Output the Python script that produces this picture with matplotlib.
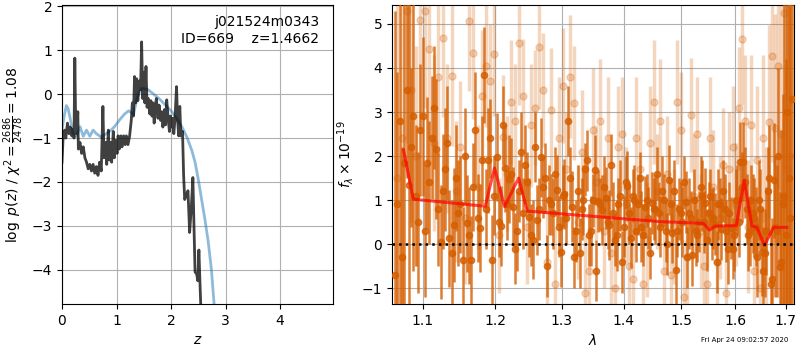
import numpy as np
import matplotlib
matplotlib.use('Agg')
import matplotlib.pyplot as plt
from matplotlib.ticker import NullLocator

# redshift PDF (left panel)
z_pdf = [0.00, 0.02, 0.05, 0.07, 0.10, 0.13, 0.15, 0.18, 0.20, 0.22,
         0.235, 0.25, 0.27, 0.29, 0.30, 0.33, 0.36, 0.39, 0.42, 0.45,
         0.48, 0.51, 0.54, 0.57, 0.60, 0.63, 0.66, 0.69, 0.72, 0.75,
         0.77, 0.80, 0.82, 0.85, 0.87, 0.89, 0.91, 0.94, 0.96, 0.98,
         1.01, 1.03, 1.05, 1.08, 1.10, 1.13, 1.16, 1.18, 1.21, 1.24,
         1.27, 1.29, 1.31, 1.33, 1.35, 1.37, 1.39, 1.42, 1.44, 1.46,
         1.48, 1.50, 1.52, 1.54, 1.56, 1.58, 1.61, 1.63, 1.65, 1.67,
         1.69, 1.71, 1.73, 1.76, 1.78, 1.81, 1.83, 1.85, 1.88, 1.90,
         1.92, 1.95, 1.97, 1.99, 2.01, 2.03, 2.05, 2.07, 2.10, 2.12,
         2.14, 2.16, 2.18, 2.21, 2.23, 2.25, 2.28, 2.31, 2.34, 2.37,
         2.40, 2.42, 2.44, 2.47, 2.49, 2.51, 2.53, 2.55]
logp = [-1.55, -1.00, -0.82, -1.00, -0.66, -0.90, -0.75, -0.95, -0.80, -1.00,
        0.82, -0.60, -0.90, -0.40, -1.25, -1.10, -1.35, -1.20, -1.45, -1.55,
        -1.70, -1.60, -1.75, -1.60, -1.80, -1.65, -1.85, -1.55, -1.75, -0.28,
        -1.45, -1.10, -1.60, -0.82, -1.50, -1.10, -1.55, -0.85, -1.45, -1.05,
        -1.35, -0.95, -1.25, -0.95, -1.20, -0.95, -1.15, -0.95, -1.15, -0.95,
        -0.60, -0.20, -0.50, 0.40, -0.20, 0.35, -0.15, 0.30, 0.10, 1.19,
        -0.10, 0.50, -0.20, 0.63, -0.30, -0.10, -0.45, -0.15, -0.50, -0.20,
        -0.66, -0.30, -0.10, -0.55, -0.25, -0.60, -0.40, -0.75, -0.35, -0.70,
        -0.13, -0.60, -0.85, -0.50, -0.75, -0.55, -0.90, -0.60, 0.17, -0.60,
        -0.95, -0.28, -0.95, -0.85, -1.85, -2.40, -2.30, -2.20, -3.15, -2.60,
        -1.90, -3.00, -4.05, -4.10, -4.25, -3.55, -4.30, -5.00]

# smooth curve
z_prior = [0.00, 0.04, 0.08, 0.11, 0.15, 0.20, 0.26, 0.33, 0.39, 0.45,
           0.51, 0.57, 0.63, 0.72, 0.81, 0.90, 0.97, 1.06, 1.15, 1.22,
           1.27, 1.31, 1.34, 1.37, 1.42, 1.46, 1.52, 1.58, 1.65, 1.73,
           1.82, 1.92, 2.00, 2.10, 2.20, 2.29, 2.38, 2.44, 2.50, 2.56,
           2.62, 2.68, 2.74, 2.79, 2.81]
logp_prior = [-0.81, -0.50, -0.26, -0.32, -0.55, -0.90, -0.96, -0.74, -0.96, -0.82,
              -0.96, -0.82, -0.90, -0.98, -0.90, -0.82, -0.73, -0.58, -0.45, -0.38,
              -0.42, -0.47, -0.30, -0.13, 0.05, 0.13, 0.12, 0.10, 0.03, -0.05,
              -0.15, -0.28, -0.38, -0.55, -0.75, -0.98, -1.28, -1.55, -1.95, -2.40,
              -2.85, -3.35, -4.00, -4.80, -5.20]

# spectrum, main points
wave_a = [1.064, 1.070, 1.076, 1.082, 1.088, 1.094, 1.100, 1.106, 1.112, 1.118,
          1.124, 1.130, 1.136, 1.142, 1.148, 1.154, 1.160, 1.166, 1.172, 1.178,
          1.184, 1.190, 1.196, 1.202, 1.208, 1.214, 1.220, 1.226, 1.232, 1.238,
          1.244, 1.250, 1.256, 1.262, 1.268, 1.274, 1.280, 1.286, 1.292, 1.298,
          1.304, 1.310, 1.316, 1.322, 1.328, 1.334, 1.340, 1.346, 1.352, 1.358,
          1.364, 1.370, 1.376, 1.382, 1.388, 1.394, 1.400, 1.406, 1.412, 1.418,
          1.424, 1.430, 1.436, 1.442, 1.448, 1.454, 1.460, 1.466, 1.472, 1.478,
          1.484, 1.490, 1.496, 1.502, 1.508, 1.514, 1.520, 1.526, 1.532, 1.538,
          1.544, 1.550, 1.556, 1.562, 1.568, 1.574, 1.580, 1.586, 1.592, 1.598,
          1.604, 1.610, 1.616, 1.622, 1.628, 1.634, 1.640, 1.646, 1.652, 1.658,
          1.664, 1.670, 1.676, 1.682, 1.688, 1.694, 1.700, 1.706, 1.712]
flux_a = [-0.70, 2.80, 1.85, 1.35, 2.90, 0.50, 2.90, 1.84, 2.42, 2.16,
          0.05, 1.70, 0.13, 0.43, 0.71, -0.36, 0.47, -0.36, 2.60, 0.37,
          3.84, 1.90, -0.35, 1.98, 0.41, 1.72, 1.47, 0.85, 0.30, 2.10,
          1.80, 0.61, 0.10, 0.55, 1.97, 1.50, 1.00, 0.70, 1.23, -0.17,
          1.14, 2.80, 0.85, 0.30, -0.20, 1.00, 1.90, 0.30, 1.68, 0.98,
          0.78, 1.05, 0.43, 0.70, 0.20, 1.10, 0.40, 1.32, 0.15, 1.00,
          0.90, 0.40, 0.85, 0.60, 0.93, 0.80, 0.70, 1.20, 0.30, 1.45,
          0.26, -0.59, 0.80, 0.50, 0.96, 0.70, -0.25, 0.30, 0.51, 1.10,
          0.93, 0.70, 0.45, 0.45, 0.90, 0.35, 0.80, -0.10, 0.36, 0.20,
          1.00, 1.87, 1.87, 0.80, 0.30, 0.70, 0.40, 1.00, -0.17, -0.20,
          1.21, -0.90, 1.45, 0.30, -0.52, 0.90, 0.20, 1.50, 3.30]
err_a = [6.0, 6.0, 6.0, 5.0, 3.5, 1.6, 1.8, 1.5, 1.4, 1.6,
         1.3, 1.4, 1.1, 1.3, 1.2, 1.2, 1.1, 1.0, 1.3, 1.0,
         1.1, 1.2, 1.0, 1.0, 0.9, 1.0, 1.0, 0.9, 0.9, 0.9,
         0.9, 0.9, 0.9, 0.8, 0.9, 0.8, 0.8, 0.8, 0.8, 0.8,
         0.8, 0.8, 0.8, 0.7, 0.8, 0.8, 0.7, 0.8, 0.8, 0.7,
         0.8, 0.7, 0.8, 0.7, 0.8, 0.8, 0.7, 0.8, 0.7, 0.8,
         0.7, 0.8, 0.7, 0.7, 0.7, 0.8, 0.7, 0.8, 0.7, 0.8,
         0.7, 0.8, 0.7, 0.8, 0.7, 0.8, 0.7, 0.8, 0.7, 0.8,
         0.8, 0.7, 0.8, 0.7, 0.8, 0.7, 0.8, 0.8, 0.7, 0.8,
         0.8, 0.9, 0.9, 0.8, 0.8, 0.9, 0.9, 0.9, 1.0, 1.0,
         1.0, 1.2, 1.3, 1.5, 1.7, 2.5, 4.0, 6.0, 6.0]

# spectrum, second beam (same grid as the faint points)
wave_b = [1.067, 1.073, 1.079, 1.085, 1.091, 1.097, 1.103, 1.109, 1.115, 1.121,
          1.127, 1.133, 1.139, 1.145, 1.151, 1.157, 1.163, 1.169, 1.175, 1.181,
          1.187, 1.193, 1.199, 1.205, 1.211, 1.217, 1.223, 1.229, 1.235, 1.241,
          1.247, 1.253, 1.259, 1.265, 1.271, 1.277, 1.283, 1.289, 1.295, 1.301,
          1.307, 1.313, 1.319, 1.325, 1.331, 1.337, 1.343, 1.349, 1.355, 1.361,
          1.367, 1.373, 1.379, 1.385, 1.391, 1.397, 1.403, 1.409, 1.415, 1.421,
          1.427, 1.433, 1.439, 1.445, 1.451, 1.457, 1.463, 1.469, 1.475, 1.481,
          1.487, 1.493, 1.499, 1.505, 1.511, 1.517, 1.523, 1.529, 1.535, 1.541,
          1.547, 1.553, 1.559, 1.565, 1.571, 1.577, 1.583, 1.589, 1.595, 1.601,
          1.607, 1.613, 1.619, 1.625, 1.631, 1.637, 1.643, 1.649, 1.655, 1.661,
          1.667, 1.673, 1.679, 1.685, 1.691, 1.697, 1.703, 1.709]
flux_c = [0.90, -0.30, 3.50, 2.20, 1.10, 2.60, 0.30, 1.40, 3.10, 0.80,
          1.20, 2.30, -0.20, 1.50, 0.90, 2.00, 0.20, 1.30, 0.60, 1.90,
          0.80, 2.40, 1.10, 0.50, 2.70, 0.90, 1.60, -0.10, 1.20, 0.70,
          1.40, 0.20, 2.20, 0.80, 1.30, -0.50, 0.90, 1.60, 0.40, 1.10,
          0.60, 1.50, -0.30, 1.20, 0.80, 1.70, 0.20, 1.00, -0.60, 0.90,
          1.30, 0.50, 1.80, 0.10, 0.90, -0.40, 1.40, 0.70, 1.10, 0.30,
          1.50, 0.20, 1.00, -0.20, 0.80, 1.60, 0.40, 1.00, 0.00, 0.90,
          1.20, 0.30, 0.70, 1.40, -0.30, 0.60, 1.00, 0.20, 1.30, 0.50,
          0.10, 1.10, 0.60, -0.40, 0.90, 1.20, 0.30, 0.70, -0.10, 1.00,
          0.50, 1.30, 1.40, 0.20, 1.00, 0.60, -0.30, 0.80, -0.60, 0.30,
          1.50, -0.80, 0.40, 2.00, -0.40, 1.10, 3.00, 0.60]
err_c = [3.0, 2.5, 2.0, 1.8, 1.6, 1.5, 1.5, 1.4, 1.4, 1.3,
         1.3, 1.3, 1.2, 1.2, 1.1, 1.1, 1.1, 1.0, 1.0, 1.0,
         0.9, 0.9, 0.9, 0.8, 0.9, 0.8, 0.8, 0.8, 0.7, 0.8,
         0.7, 0.7, 0.8, 0.7, 0.7, 0.7, 0.7, 0.6, 0.7, 0.7,
         0.6, 0.7, 0.7, 0.6, 0.7, 0.6, 0.7, 0.6, 0.7, 0.6,
         0.7, 0.6, 0.7, 0.6, 0.6, 0.7, 0.6, 0.7, 0.6, 0.7,
         0.6, 0.7, 0.6, 0.6, 0.7, 0.6, 0.7, 0.6, 0.7, 0.6,
         0.7, 0.6, 0.7, 0.6, 0.7, 0.6, 0.7, 0.6, 0.7, 0.7,
         0.7, 0.6, 0.7, 0.7, 0.6, 0.7, 0.7, 0.7, 0.7, 0.7,
         0.8, 0.8, 0.8, 0.8, 0.8, 0.9, 0.9, 0.9, 1.0, 1.0,
         1.2, 1.4, 1.6, 2.0, 3.0, 5.0, 6.0, 6.0]

# faint points
flux_b = [1.50, 2.40, 5.30, 3.50, 2.00, 5.10, 5.30, 4.42, 2.30, 3.80,
          4.68, 2.40, 3.82, 1.20, 2.20, 0.60, 5.07, 4.33, 1.30, 3.36,
          4.05, 3.70, 4.32, 0.20, 2.43, 1.60, 3.23, 2.80, 4.56, 3.36,
          0.40, 2.70, 3.10, 4.47, 3.50, -0.40, 3.05, -0.90, 2.40, 3.60,
          1.70, 3.80, 3.20, 0.50, 2.10, -1.10, -0.60, 2.60, 1.40, 2.80,
          0.30, 2.40, -0.20, -1.00, 2.20, 2.50, 0.90, -0.50, -0.80, 2.40,
          1.70, -0.90, 0.10, 2.30, 3.23, 1.20, 2.80, -0.60, 1.60, -0.70,
          0.40, 3.23, 2.60, -1.20, -0.30, 2.93, 1.10, 2.50, 0.30, -0.50,
          -0.90, 2.40, 1.30, -0.40, 0.60, 1.80, -1.10, 1.70, 2.20, 0.90,
          3.08, 4.66, 2.80, 0.40, 2.70, -0.60, 1.90, -1.00, 2.40, 0.20,
          2.77, 4.27, 2.63, 4.05, 2.50, 5.25, 1.70, 2.00]
err_b = [4.0, 4.0, 3.0, 3.0, 2.5, 2.5, 2.2, 2.0, 2.0, 1.8,
         1.8, 1.7, 1.6, 1.6, 1.5, 1.5, 1.6, 1.5, 1.4, 1.5,
         1.4, 1.3, 1.4, 1.3, 1.4, 1.3, 1.4, 1.3, 1.4, 1.3,
         1.3, 1.4, 1.3, 1.4, 1.3, 1.3, 1.4, 1.3, 1.4, 1.3,
         1.3, 1.4, 1.3, 1.3, 1.4, 1.3, 1.3, 1.4, 1.3, 1.4,
         1.3, 1.4, 1.3, 1.3, 1.4, 1.3, 1.3, 1.4, 1.3, 1.4,
         1.3, 1.4, 1.3, 1.3, 1.4, 1.3, 1.4, 1.3, 1.3, 1.4,
         1.3, 1.4, 1.3, 1.3, 1.4, 1.3, 1.4, 1.3, 1.3, 1.4,
         1.3, 1.4, 1.3, 1.3, 1.4, 1.3, 1.4, 1.3, 1.4, 1.4,
         1.4, 1.5, 1.5, 1.5, 1.6, 1.6, 1.7, 1.8, 1.9, 2.0,
         2.2, 2.4, 2.6, 2.8, 3.0, 3.5, 4.0, 5.0]

# best-fit model
wave_model = [1.0752, 1.0878, 1.1858, 1.1991, 1.2136, 1.2342, 1.2471, 1.4626,
              1.5405, 1.5517, 1.5623, 1.6022, 1.6176, 1.6325, 1.6423, 1.6574,
              1.6753, 1.7025]
flux_model = [2.14, 1.02, 0.86, 1.73, 0.85, 1.50, 0.75, 0.51,
              0.47, 0.32, 0.41, 0.42, 1.45, 0.41, 0.38, -0.03,
              0.38, 0.38]

wave_ticks = [1.1, 1.2, 1.3, 1.4, 1.5, 1.6, 1.7]

grism_color = (0.835, 0.369, 0.0)

fig = plt.figure(figsize=(8, 3.5), dpi=100)

# left: p(z)
ax = fig.add_axes([0.0775, 0.1314, 0.3388, 0.8543])
ax.plot(z_prior, logp_prior, color='tab:blue', alpha=0.5, lw=2)
ax.plot(z_pdf, logp, color='k', alpha=0.75, lw=2)
ax.set_xlim(0, 4.97)
ax.set_ylim(-4.78, 2.03)
ax.set_xlabel('$z$')
ax.set_ylabel(r'$\log\ p(z)$ / $\chi^2=\frac{2686}{2478}=1.08$')
ax.grid()
ax.text(0.95, 0.965, 'j021524m0343\nID=669    z=1.4662',
        ha='right', va='top', transform=ax.transAxes, fontsize=10)

# right: spectrum
ax2 = fig.add_axes([0.49, 0.1314, 0.5025, 0.8543])
ax2.errorbar(wave_b, flux_b, yerr=err_b, marker='o', linestyle='none',
             color=grism_color, alpha=0.25, ms=5, elinewidth=2.5, zorder=2)
ax2.errorbar(wave_a, flux_a, yerr=err_a, marker='o', linestyle='none',
             color=grism_color, alpha=0.8, ms=4.5, elinewidth=1.8, zorder=3)
ax2.errorbar(wave_b, flux_c, yerr=err_c, marker='o', linestyle='none',
             color=grism_color, alpha=0.8, ms=4.5, elinewidth=1.8, zorder=3)
ax2.plot(wave_model, flux_model, color='r', alpha=0.7, lw=2.2, zorder=4)
ax2.axhline(0, color='k', linestyle=':', lw=1.8, zorder=5)
ax2.set_xscale('log')
ax2.set_xticks(wave_ticks)
ax2.set_xticklabels([f'{w:.1f}' for w in wave_ticks])
ax2.xaxis.set_minor_locator(NullLocator())
ax2.set_xlim(1.0604, 1.717)
ax2.set_ylim(-1.36, 5.43)
ax2.set_xlabel(r'$\lambda$')
ax2.set_ylabel(r'$f_\lambda \times 10^{-19}$')
ax2.grid()

fig.text(0.985, 0.029, 'Fri Apr 24 09:02:57 2020', ha='right', va='center',
         fontsize=5)

fig.savefig('out.png', dpi=100)
